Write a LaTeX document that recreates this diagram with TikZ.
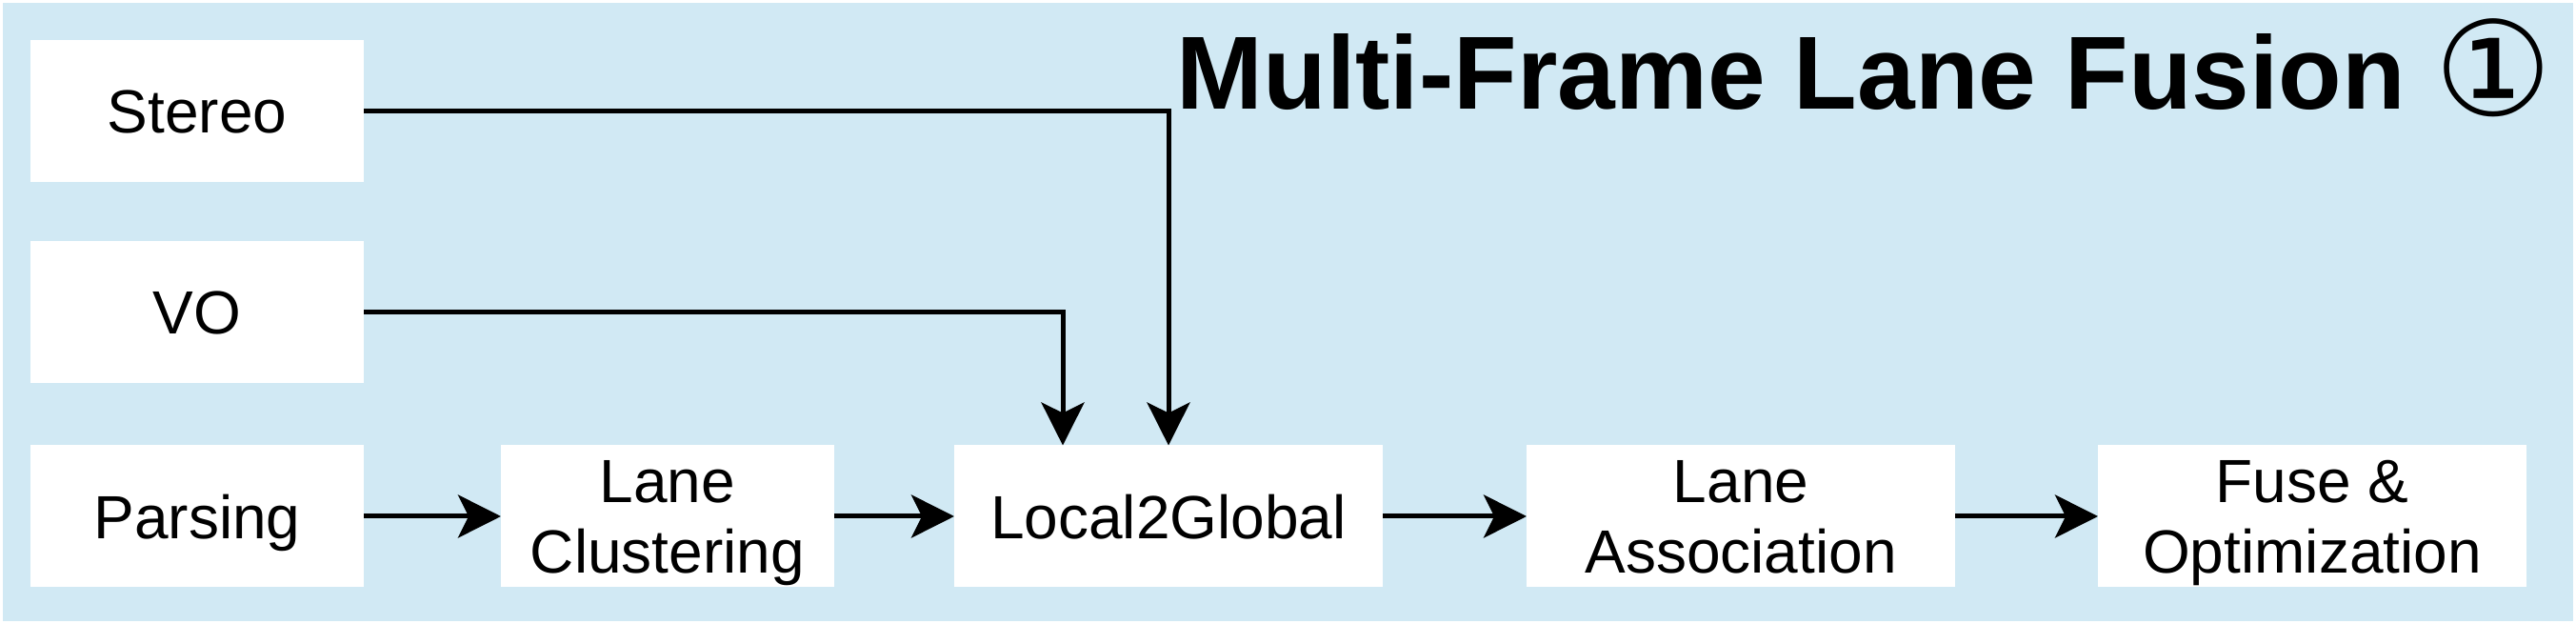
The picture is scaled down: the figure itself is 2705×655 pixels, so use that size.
\documentclass[tikz,border=0pt]{standalone}
\usepackage{fontspec}
\setmainfont{Liberation Sans}
\newfontfamily\symfont{DejaVu Sans}
\usepackage{tikz}
\usetikzlibrary{arrows.meta, positioning}
\definecolor{panelblue}{RGB}{209,233,244}

\begin{document}
\begin{tikzpicture}[
    x=1pt, y=1pt,
    every node/.style={font=\fontsize{64}{74}\selectfont},
    block/.style={rectangle, fill=white, minimum width=350pt, minimum height=149pt, align=center, text depth=0pt, inner sep=0pt, outer sep=0pt},
    wideblock/.style={block, minimum width=450pt},
    arrow/.style={-{Stealth[length=45pt, width=45pt, inset=11pt]}, line width=5pt}
]
\useasboundingbox (0,0) rectangle (2705,655);
\fill[panelblue] (3,3) rectangle (2702,652);

\node[block] (stereo) at (207,538) {Stereo};
\node[block, below=62pt of stereo] (vo) {VO};
\node[block, below=65pt of vo] (parsing) {Parsing};
\node[block, right=144pt of parsing] (cluster) {Lane\\Clustering};
\node[wideblock, right=126pt of cluster] (l2g) {Local2Global};
\node[wideblock, right=151pt of l2g] (assoc) {Lane\\Association};
\node[wideblock, right=150pt of assoc] (fuse) {Fuse \&\\Optimization};

\node[anchor=base east, inner sep=0pt, font=\fontsize{109}{120}\selectfont\bfseries] (title) at (2680,540) {Multi-Frame Lane Fusion \raisebox{-7pt}{\symfont\mdseries\fontsize{138}{140}\selectfont ①}};

\draw[arrow] (stereo.east) -| (l2g.north);
\draw[arrow] (vo.east) -| ([xshift=-111pt]l2g.north);
\draw[arrow] (parsing) -- (cluster);
\draw[arrow] (cluster) -- (l2g);
\draw[arrow] (l2g) -- (assoc);
\draw[arrow] (assoc) -- (fuse);

\end{tikzpicture}
\end{document}
